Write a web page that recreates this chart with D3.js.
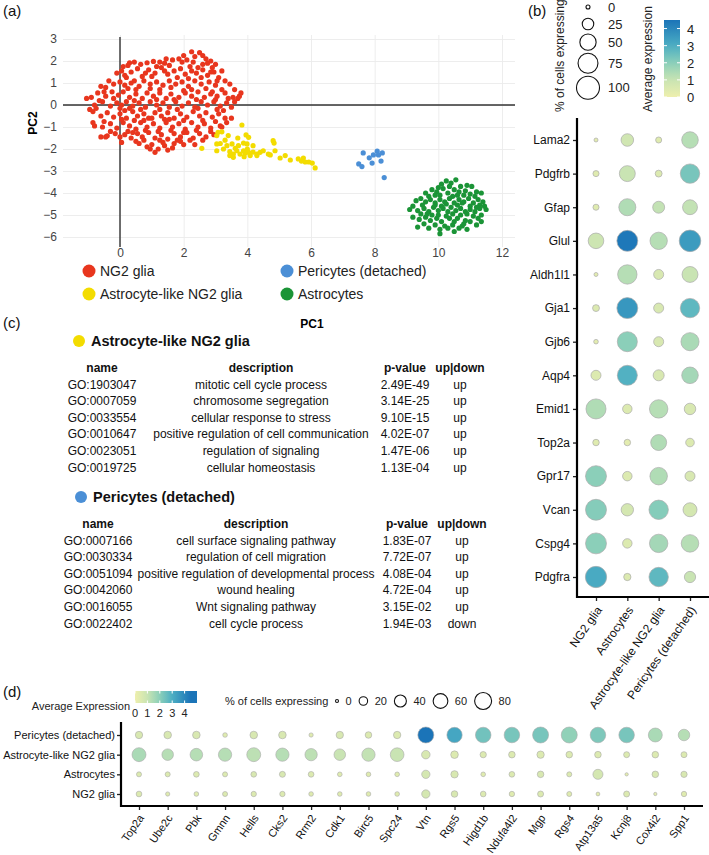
<!DOCTYPE html>
<html>
<head>
<meta charset="utf-8">
<script src="https://cdnjs.cloudflare.com/ajax/libs/d3/7.8.5/d3.min.js"></script>
<style>
  body { margin: 0; background: #fff; }
  svg { display: block; }
  svg text { font-family: "Liberation Sans", Arial, Helvetica, sans-serif; }
</style>
</head>
<body>
<div id="chart"></div>
<script>
// ---- (a) PCA scatter (PC1, PC2)
const ng2Pts = [
  [2.25,2.42],[2.5,2.38],[2.35,2.2],[2.6,2.25],[2.7,2.1],
  [0.3,1.92],[0.45,1.95],[0.25,1.8],[1.05,1.98],[1.25,1.95],[1.4,1.9],[1.65,2.05],[1.85,2.1],[1.95,1.95],[2.1,2.05],[2.3,1.95],[2.6,1.85],[2.85,2.0],[3.0,1.85],[0.85,1.92],[1.55,1.8],[2.45,1.7],[2.9,1.7],
  [-0.1,1.45],[0.05,1.55],[0.35,1.5],[0.55,1.65],[0.7,1.3],[0.9,1.6],[1.1,1.45],[1.3,1.7],[1.5,1.4],[1.7,1.55],[1.9,1.65],[2.05,1.4],[2.25,1.55],[2.4,1.45],[2.6,1.6],[2.75,1.35],[2.95,1.5],[3.2,1.55],[0.2,1.25],[1.0,1.3],[1.8,1.25],[2.55,1.25],[3.1,1.25],[0.45,1.1],
  [-0.6,0.85],[-0.35,1.1],[-0.2,0.95],[0.0,1.05],[0.15,0.9],[0.35,1.0],[0.6,0.85],[0.75,1.1],[0.95,0.95],[1.15,1.05],[1.35,0.9],[1.55,1.1],[1.75,0.95],[1.95,1.05],[2.15,0.85],[2.35,1.1],[2.55,0.95],[2.8,1.05],[3.0,0.9],[3.3,1.1],[3.45,0.95],[-0.5,0.6],[0.5,0.7],[1.25,0.7],[2.0,0.65],[2.7,0.75],[3.2,0.7],
  [-0.9,0.35],[-0.7,0.55],[-0.45,0.4],[-0.25,0.6],[-0.05,0.45],[0.1,0.6],[0.3,0.35],[0.5,0.5],[0.7,0.3],[0.85,0.55],[1.05,0.4],[1.25,0.55],[1.45,0.3],[1.6,0.5],[1.85,0.35],[2.05,0.55],[2.25,0.4],[2.45,0.6],[2.65,0.35],[2.85,0.5],[3.05,0.4],[3.3,0.55],[3.55,0.35],[3.75,0.4],[3.8,0.55],[3.6,0.15],[3.4,0.3],
  [-1.05,0.3],[-0.8,0.0],[-0.55,0.15],[-0.3,-0.05],[-0.1,0.1],[0.05,0.0],[0.2,0.15],[0.4,-0.05],[0.6,0.1],[0.8,-0.1],[0.95,0.15],[1.15,0.0],[1.35,0.1],[1.55,-0.1],[1.75,0.15],[1.95,-0.05],[2.15,0.1],[2.35,-0.1],[2.55,0.15],[2.75,0.0],[2.95,0.15],[3.15,-0.05],[3.35,0.1],[3.5,-0.1],[-0.95,-0.2],[0.0,-0.15],
  [-0.85,-0.3],[-0.6,-0.5],[-0.4,-0.35],[-0.2,-0.55],[0.0,-0.4],[0.2,-0.6],[0.4,-0.3],[0.55,-0.5],[0.75,-0.4],[0.9,-0.6],[1.1,-0.35],[1.3,-0.5],[1.5,-0.35],[1.7,-0.6],[1.9,-0.4],[2.1,-0.55],[2.3,-0.3],[2.5,-0.5],[2.7,-0.35],[2.9,-0.55],[3.1,-0.4],[3.3,-0.6],[3.05,-0.2],[0.3,-0.15],
  [-0.85,-0.8],[-0.8,-0.95],[-0.55,-1.0],[-0.3,-0.85],[-0.1,-1.05],[0.1,-0.8],[0.3,-0.95],[0.5,-1.1],[0.65,-0.8],[0.85,-1.0],[1.05,-0.85],[1.25,-1.05],[1.45,-0.8],[1.65,-1.0],[1.85,-0.85],[2.05,-1.1],[2.25,-0.8],[2.45,-1.0],[2.65,-0.85],[2.85,-1.05],[3.0,-0.75],[3.15,-0.95],[3.35,-0.8],[3.5,-0.6],[0.75,-0.7],[1.55,-0.65],
  [-0.6,-1.45],[-0.4,-1.4],[-0.15,-1.3],[0.0,-1.45],[0.15,-1.35],[0.35,-1.5],[0.55,-1.3],[0.7,-1.45],[0.9,-1.25],[1.1,-1.5],[1.3,-1.35],[1.5,-1.55],[1.7,-1.3],[1.9,-1.45],[2.1,-1.25],[2.3,-1.5],[2.5,-1.3],[2.7,-1.45],[2.85,-1.2],[0.25,-1.2],[1.8,-1.6],[2.6,-1.6],
  [0.05,-1.7],[0.6,-1.75],[0.85,-1.9],[1.0,-1.8],[1.2,-2.0],[1.1,-2.15],[1.4,-1.85],[1.5,-2.05],[1.7,-1.75],[1.9,-1.65],[2.0,-1.8],[2.35,-1.8],[0.95,-2.0],[1.35,-1.7],[0.75,-1.6],
  [0.1,1.75],[0.65,1.85],[1.15,1.75],[1.45,2.1],[2.0,2.25],[2.2,1.75],[2.75,1.9],[0.15,1.35],[0.8,1.45],[1.4,1.55],[2.15,1.2],[2.85,1.5],[3.05,1.1],[-0.45,0.8],[0.25,0.75],[0.95,0.75],[1.6,0.8],[2.25,0.7],[2.9,0.6],[3.6,0.7],
  [-0.65,0.2],[-0.2,0.3],[0.45,0.2],[1.15,0.25],[1.7,0.25],[2.4,0.25],[3.0,0.25],[3.7,0.3],[-0.75,-0.15],[0.15,-0.25],[0.65,-0.2],[1.25,-0.2],[1.8,-0.2],[2.45,-0.15],[3.25,-0.25],
  [-0.5,-0.75],[0.05,-0.65],[0.45,-0.7],[1.0,-0.6],[1.4,-0.65],[2.0,-0.7],[2.6,-0.7],[3.2,-1.0],[-0.3,-1.2],[0.4,-1.25],[0.8,-1.15],[1.2,-1.2],[1.6,-1.15],[2.0,-1.25],[2.4,-1.15],[2.95,-1.35],[-0.45,-1.45],[0.5,-1.65],[1.25,-1.6],[2.2,-1.6],[1.65,-1.95]
]
const astroLikePts = [
  [3.83,-0.91],[3.08,-1.24],[3.2,-1.22],[3.04,-1.39],[3.4,-1.39],[3.96,-1.36],[4.04,-1.47],[3.04,-1.77],[3.36,-1.85],[3.52,-1.77],
  [3.72,-1.85],[3.88,-1.73],[3.99,-1.77],[2.57,-1.97],[3.04,-2.08],[3.25,-2.0],[3.45,-2.12],[3.62,-1.97],[3.67,-2.08],[3.88,-2.08],
  [4.04,-2.15],[3.56,-2.23],[3.77,-2.23],[3.93,-2.18],[4.09,-2.3],[4.3,-2.23],[4.5,-2.08],[3.56,-2.38],[4.3,-2.3],[4.66,-2.23],
  [4.81,-1.62],[4.84,-1.73],[4.87,-2.08],[4.72,-2.27],[5.03,-2.41],[5.19,-2.3],[5.35,-2.5],[5.6,-2.45],[5.76,-2.41],[5.82,-2.59],
  [5.93,-2.59],[6.04,-2.64],[6.13,-2.86],[4.18,-2.14],[3.45,-2.3],[4.18,-1.85],[3.3,-1.6],[3.15,-1.75],[3.7,-1.5],[4.4,-2.15],
  [5.7,-2.55],[3.9,-2.35],[4.0,-2.0]
]
const periPts = [
  [7.64,-2.18],[7.5,-2.68],[7.6,-2.8],[7.83,-2.4],[7.92,-2.64],[7.96,-2.27],[8.08,-2.1],[8.12,-2.27],[8.24,-2.18],[8.2,-2.55],[8.3,-3.3]
]
const astroPts = [
  [10.25,-3.45],[10.55,-3.4],[10.1,-3.6],[10.4,-3.55],[10.7,-3.7],[10.9,-3.65],[11.05,-3.7],[10.0,-3.75],
  [9.6,-4.0],[9.8,-3.85],[9.95,-3.95],[10.15,-3.8],[10.3,-4.0],[10.5,-3.85],[10.65,-3.95],[10.85,-3.9],[11.0,-4.05],[11.2,-3.95],[11.35,-4.0],[9.7,-4.15],[10.05,-4.1],[10.45,-4.15],[10.8,-4.1],[11.15,-4.15],
  [9.3,-4.35],[9.45,-4.25],[9.6,-4.4],[9.75,-4.3],[9.9,-4.45],[10.05,-4.3],[10.2,-4.4],[10.35,-4.25],[10.5,-4.45],[10.65,-4.3],[10.8,-4.4],[10.95,-4.25],[11.1,-4.45],[11.25,-4.3],[11.4,-4.4],[9.5,-4.55],[10.1,-4.6],[10.6,-4.55],[11.0,-4.6],[11.3,-4.55],
  [9.1,-4.75],[9.2,-4.6],[9.35,-4.8],[9.55,-4.7],[9.7,-4.85],[9.85,-4.65],[10.0,-4.8],[10.15,-4.7],[10.3,-4.85],[10.4,-4.65],[10.55,-4.8],[10.7,-4.7],[10.85,-4.85],[11.0,-4.75],[11.15,-4.85],[11.3,-4.7],[11.45,-4.6],[11.5,-4.75],[9.45,-4.95],[9.8,-5.0],[10.25,-5.05],[10.7,-5.0],[11.1,-5.05],
  [9.2,-5.1],[9.4,-5.2],[9.6,-5.1],[9.75,-5.25],[9.95,-5.15],[10.1,-5.3],[10.35,-5.15],[10.5,-5.3],[10.6,-5.15],[10.85,-5.25],[11.0,-5.3],[11.25,-5.15],[11.35,-5.3],[9.55,-5.4],[9.9,-5.45],[10.2,-5.5],[10.45,-5.45],[10.75,-5.5],[11.2,-5.45],
  [9.35,-5.55],[9.7,-5.6],[10.05,-5.65],[10.3,-5.6],[10.5,-5.75],[10.05,-5.85],[10.65,-5.6],[10.9,-5.65],
  [9.9,-4.55],[10.25,-4.5],[10.75,-4.45],[11.2,-4.65],[9.65,-4.95],[10.0,-5.0],[10.45,-4.95],[10.9,-4.95],[11.35,-5.0],[10.35,-3.7],[10.6,-4.1],[9.9,-4.1],[10.8,-5.4]
]
const groupNames = ["NG2 glia", "Astrocyte-like NG2 glia", "Pericytes (detached)", "Astrocytes"]
const pcXTicks = [0, 2, 4, 6, 8, 10, 12]
const pcYTicks = [-6, -5, -4, -3, -2, -1, 0, 1, 2, 3]

// ---- (b) marker dot plot
const genesB = ["Lama2","Pdgfrb","Gfap","Glul","Aldh1l1","Gja1","Gjb6","Aqp4","Emid1","Top2a","Gpr17","Vcan","Cspg4","Pdgfra"]
const cellsB = ["NG2 glia","Astrocytes","Astrocyte-like NG2 glia","Pericytes (detached)"]
const pctB = [
  [3,30,7,52],[7,48,9,71],[7,55,27,42],[46,83,57,88],[3,71,19,48],[9,83,19,71],[4,76,19,62],
  [19,76,23,52],[76,17,64,25],[8,8,48,14],[83,17,58,19],[83,29,71,37],[83,17,64,58],[86,10,71,24]
]
const exprB = [
  [0.3,0.8,0.4,1.3],[0.4,1.0,0.5,2.3],[0.4,1.4,1.1,1.1],[0.9,4.4,1.3,3.5],[0.3,1.3,0.6,1.0],[0.5,3.6,0.6,2.7],[0.3,2.0,0.6,1.5],
  [0.5,2.9,0.6,1.6],[1.4,0.5,1.3,0.6],[0.4,0.3,1.4,0.5],[2.0,0.5,1.4,0.6],[2.1,0.7,2.1,0.7],[2.0,0.5,1.6,1.3],[3.1,0.5,2.7,1.0]
]
const sizeLegendB = [0, 25, 50, 75, 100]
const colorTicksB = [0, 1, 2, 3, 4]

// ---- (c) GO term tables
const goHeader = ["name", "description", "p-value", "up|down"]
const astroLikeGO = [
  ["GO:1903047","mitotic cell cycle process","2.49E-49","up"],
  ["GO:0007059","chromosome segregation","3.14E-25","up"],
  ["GO:0033554","cellular response to stress","9.10E-15","up"],
  ["GO:0010647","positive regulation of cell communication","4.02E-07","up"],
  ["GO:0023051","regulation of signaling","1.47E-06","up"],
  ["GO:0019725","cellular homeostasis","1.13E-04","up"]
]
const periGO = [
  ["GO:0007166","cell surface signaling pathway","1.83E-07","up"],
  ["GO:0030334","regulation of cell migration","7.72E-07","up"],
  ["GO:0051094","positive regulation of developmental process","4.08E-04","up"],
  ["GO:0042060","wound healing","4.72E-04","up"],
  ["GO:0016055","Wnt signaling pathway","3.15E-02","up"],
  ["GO:0022402","cell cycle process","1.94E-03","down"]
]

// ---- (d) second dot plot
const genesD = ["Top2a","Ube2c","Pbk","Gmnn","Hells","Cks2","Rrm2","Cdk1","Birc5","Spc24","Vtn","Rgs5","Higd1b","Ndufa4l2","Mgp","Rgs4","Atp13a5","Kcnj8","Cox4i2","Spp1"]
const cellsD = ["Pericytes (detached)","Astrocyte-like NG2 glia","Astrocytes","NG2 glia"]
const pctD = [
  [15,16,16,6,16,16,5,15,12,15,71,65,67,67,71,71,67,67,54,37],
  [54,37,44,49,54,49,42,37,49,52,20,16,11,12,15,12,12,10,12,10],
  [7,7,9,7,9,10,9,6,6,6,19,15,6,9,12,7,28,3,12,11],
  [9,5,6,7,8,8,6,6,6,6,19,12,9,8,10,7,4,10,3,8]
]
const exprD = [
  [0.6,0.6,0.6,0.4,0.6,0.6,0.4,0.6,0.5,0.5,4.5,3.2,2.4,2.3,2.3,1.9,2.2,2.3,1.5,1.3],
  [1.5,1.3,1.3,1.3,1.2,1.3,1.2,1.0,1.1,1.0,0.6,0.5,0.5,0.5,0.5,0.5,0.5,0.5,0.5,0.5],
  [0.5,0.5,0.5,0.5,0.6,0.6,0.5,0.4,0.4,0.4,0.7,0.6,0.4,0.5,0.6,0.5,0.7,0.3,0.6,0.6],
  [0.5,0.4,0.4,0.5,0.5,0.5,0.4,0.4,0.4,0.4,0.7,0.6,0.5,0.4,0.5,0.4,0.3,0.5,0.3,0.4]
]
const sizeLegendD = [0, 20, 40, 60, 80]
const colorTicksD = [0, 1, 2, 3, 4]

// styles
const groupColors = ["#e8361e", "#f3dc00", "#4b8fd6", "#1b9437"]
const exprColor = d3.scaleLinear()
  .domain([0, 1, 2, 3, 4.5])
  .range(["#eeefad", "#c9e4b3", "#8bcfb9", "#4caec3", "#1b74b8"])
  .clamp(true)
const dotStroke = "#aaaaaa"

const svg = d3.select("#chart").append("svg")
  .attr("width", 709).attr("height", 855)
  .style("background", "#fff")
const defs = svg.append("defs")

function panelLetter(txt, x, y) {
  svg.append("text").attr("x", x).attr("y", y).attr("font-size", 15).attr("fill", "#111").text(txt)
}

// =============== (a) ===============
panelLetter("(a)", 3, 16)
const plotL = 63, plotR = 515, plotT = 35, plotB = 247
const pcX = d3.scaleLinear().domain([0, 12]).range([120, 502])
const pcY = d3.scaleLinear().domain([-6, 3]).range([237, 39])
const gA = svg.append("g")

gA.append("g")
  .attr("transform", `translate(0,${plotB})`)
  .call(d3.axisBottom(pcX).tickValues(pcXTicks).tickSize(-(plotB - plotT)).tickPadding(1))
  .call(g => g.select(".domain").remove())
  .call(g => g.selectAll("line").attr("stroke", "#ebebeb").attr("stroke-width", 0.9))
  .call(g => g.selectAll("text").attr("font-size", 12).attr("fill", "#444"))

gA.append("g")
  .attr("transform", `translate(${plotL},0)`)
  .call(d3.axisLeft(pcY).tickValues(pcYTicks).tickSize(-(plotR - plotL)).tickPadding(6))
  .call(g => g.select(".domain").remove())
  .call(g => g.selectAll("line").attr("stroke", "#ebebeb").attr("stroke-width", 0.9))
  .call(g => g.selectAll("text").attr("font-size", 12).attr("fill", "#444"))

gA.append("line")
  .attr("x1", pcX(0)).attr("x2", pcX(0)).attr("y1", 37).attr("y2", plotB)
  .attr("stroke", "#333").attr("stroke-width", 1.4)
gA.append("line")
  .attr("x1", plotL).attr("x2", plotR).attr("y1", pcY(0)).attr("y2", pcY(0))
  .attr("stroke", "#333").attr("stroke-width", 1.4)

const allGroups = [ng2Pts, astroLikePts, periPts, astroPts]
allGroups.forEach((pts, i) => {
  gA.append("g").selectAll("circle")
    .data(pts)
    .enter()
    .append("circle")
    .attr("cx", d => pcX(d[0]))
    .attr("cy", d => pcY(d[1]))
    .attr("r", 2.6)
    .attr("fill", groupColors[i])
})

gA.append("text")
  .attr("transform", "translate(37,123) rotate(-90)")
  .attr("text-anchor", "middle").attr("font-size", 12).attr("font-weight", "bold")
  .text("PC2")
gA.append("text")
  .attr("x", 312).attr("y", 328)
  .attr("text-anchor", "middle").attr("font-size", 12).attr("font-weight", "bold")
  .text("PC1")

// legend: 2 x 2
const legA = gA.append("g")
groupNames.forEach((name, i) => {
  const lx = [89, 287][i >= 2 ? 1 : 0]
  const ly = [271, 294][i % 2]
  legA.append("circle").attr("cx", lx).attr("cy", ly).attr("r", 6.5).attr("fill", groupColors[i])
  legA.append("text").attr("x", lx + 11).attr("y", ly + 5).attr("font-size", 14).attr("fill", "#222").text(name)
})

// =============== (b) ===============
panelLetter("(b)", 528, 16)
const gB = svg.append("g")
const bx = d3.scalePoint().domain(cellsB).range([596, 690])
const by = d3.scalePoint().domain(genesB).range([140, 577])
const sizeB = d3.scaleSqrt().domain([0, 100]).range([0, 11.5])
const rB = p => Math.max(2, sizeB(p))

gB.append("g")
  .attr("transform", "translate(577,0)")
  .call(d3.axisLeft(by).tickSize(4).tickPadding(3))
  .call(g => g.select(".domain").remove())
  .call(g => g.selectAll("line").attr("stroke", "#222").attr("stroke-width", 1.3))
  .call(g => g.selectAll("text").attr("font-size", 12).attr("fill", "#111"))

gB.append("g")
  .attr("transform", "translate(0,597)")
  .call(d3.axisBottom(bx).tickSize(4))
  .call(g => g.select(".domain").remove())
  .call(g => g.selectAll("line").attr("stroke", "#222").attr("stroke-width", 1.3))
  .call(g => g.selectAll("text")
    .attr("font-size", 12).attr("fill", "#111")
    .attr("text-anchor", "end")
    .attr("y", 0).attr("dy", 0)
    .attr("transform", "translate(6,13) rotate(-55)"))

gB.append("line").attr("x1", 577).attr("x2", 577).attr("y1", 118).attr("y2", 598)
  .attr("stroke", "#000").attr("stroke-width", 2.2)
gB.append("line").attr("x1", 576).attr("x2", 709).attr("y1", 597).attr("y2", 597)
  .attr("stroke", "#000").attr("stroke-width", 2.2)

const cellsBData = []
genesB.forEach((g, i) => cellsB.forEach((c, j) => cellsBData.push({ gene: g, cell: c, pct: pctB[i][j], expr: exprB[i][j] })))
gB.append("g").selectAll("circle")
  .data(cellsBData)
  .enter()
  .append("circle")
  .attr("cx", d => bx(d.cell))
  .attr("cy", d => by(d.gene))
  .attr("r", d => rB(d.pct))
  .attr("fill", d => exprColor(d.expr))
  .attr("stroke", dotStroke).attr("stroke-width", 0.7)

// size legend (b)
gB.append("text")
  .attr("transform", "translate(564,112) rotate(-90)")
  .attr("font-size", 12).attr("fill", "#222")
  .text("% of cells expressing")
let keyY = -1.5
sizeLegendB.forEach(v => {
  const r = rB(v)
  const h = Math.max(2 * r + 3, 17)
  const cy = keyY + h / 2
  gB.append("circle").attr("cx", 588).attr("cy", cy).attr("r", r)
    .attr("fill", "none").attr("stroke", "#111").attr("stroke-width", 1.1)
  gB.append("text").attr("x", 608).attr("y", cy + 4.5).attr("font-size", 13).attr("fill", "#222").text(v)
  keyY += h
})

// colour legend (b)
gB.append("text")
  .attr("transform", "translate(652,112) rotate(-90)")
  .attr("font-size", 12).attr("fill", "#222")
  .text("Average expression")
const cbB = d3.scaleLinear().domain([0, 4.5]).range([97, 20])
const gradB = defs.append("linearGradient").attr("id", "gradB")
  .attr("x1", 0).attr("x2", 0).attr("y1", 1).attr("y2", 0)
d3.range(0, 1.0001, 0.1).forEach(t => {
  gradB.append("stop").attr("offset", t).attr("stop-color", exprColor(t * 4.5))
})
gB.append("rect").attr("x", 664).attr("y", 20).attr("width", 16).attr("height", 77).attr("fill", "url(#gradB)")
colorTicksB.forEach(v => {
  gB.append("line").attr("x1", 664).attr("x2", 667).attr("y1", cbB(v)).attr("y2", cbB(v)).attr("stroke", "#fff")
  gB.append("line").attr("x1", 677).attr("x2", 680).attr("y1", cbB(v)).attr("y2", cbB(v)).attr("stroke", "#fff")
  gB.append("text").attr("x", 687).attr("y", cbB(v) + 5).attr("font-size", 13).attr("fill", "#222").text(v)
})

// =============== (c) ===============
panelLetter("(c)", 3, 328)
const gC = svg.append("g")

function drawGoTable(title, color, rows, top, cols) {
  gC.append("circle").attr("cx", cols.dot).attr("cy", top).attr("r", 6).attr("fill", color)
  gC.append("text").attr("x", cols.dot + 12).attr("y", top + 5)
    .attr("font-size", 14.5).attr("font-weight", "bold").attr("fill", "#111").text(title)
  const hy = top + 27
  goHeader.forEach((h, k) => {
    gC.append("text").attr("x", cols.x[k]).attr("y", hy + 4)
      .attr("text-anchor", "middle").attr("font-size", 12).attr("font-weight", "bold").attr("fill", "#111").text(h)
  })
  rows.forEach((r, i) => {
    r.forEach((cell, k) => {
      gC.append("text").attr("x", cols.x[k]).attr("y", hy + 16.6 * (i + 1) + 4)
        .attr("text-anchor", "middle").attr("font-size", 12).attr("fill", "#111").text(cell)
    })
  })
}
drawGoTable("Astrocyte-like NG2 glia", groupColors[1], astroLikeGO, 341, { dot: 79, x: [102, 261, 405, 460] })
drawGoTable("Pericytes (detached)", groupColors[2], periGO, 497, { dot: 81, x: [98, 256, 407, 462] })

// =============== (d) ===============
panelLetter("(d)", 3, 697)
const gD = svg.append("g")
const dx = d3.scalePoint().domain(genesD).range([139, 684])
const dy = d3.scalePoint().domain(cellsD).range([735, 794])
const sizeD = d3.scaleSqrt().domain([0, 80]).range([0, 8.5])
const rD = p => Math.max(1.5, sizeD(p))

gD.append("g")
  .attr("transform", "translate(121,0)")
  .call(d3.axisLeft(dy).tickSize(4).tickPadding(2))
  .call(g => g.select(".domain").remove())
  .call(g => g.selectAll("line").attr("stroke", "#222").attr("stroke-width", 1.3))
  .call(g => g.selectAll("text").attr("font-size", 11).attr("fill", "#111"))

gD.append("g")
  .attr("transform", "translate(0,806)")
  .call(d3.axisBottom(dx).tickSize(4))
  .call(g => g.select(".domain").remove())
  .call(g => g.selectAll("line").attr("stroke", "#222").attr("stroke-width", 1.3))
  .call(g => g.selectAll("text")
    .attr("font-size", 11).attr("fill", "#111")
    .attr("text-anchor", "end")
    .attr("y", 0).attr("dy", 0)
    .attr("transform", "translate(5,12) rotate(-55)"))

gD.append("line").attr("x1", 121).attr("x2", 121).attr("y1", 722).attr("y2", 807)
  .attr("stroke", "#000").attr("stroke-width", 2.2)
gD.append("line").attr("x1", 120).attr("x2", 703).attr("y1", 806).attr("y2", 806)
  .attr("stroke", "#000").attr("stroke-width", 2.2)

const cellsDData = []
cellsD.forEach((c, i) => genesD.forEach((g, j) => cellsDData.push({ gene: g, cell: c, pct: pctD[i][j], expr: exprD[i][j] })))
gD.append("g").selectAll("circle")
  .data(cellsDData)
  .enter()
  .append("circle")
  .attr("cx", d => dx(d.gene))
  .attr("cy", d => dy(d.cell))
  .attr("r", d => rD(d.pct))
  .attr("fill", d => exprColor(d.expr))
  .attr("stroke", dotStroke).attr("stroke-width", 0.6)

// colour legend (d), horizontal
gD.append("text").attr("x", 130).attr("y", 710).attr("text-anchor", "end")
  .attr("font-size", 11).attr("fill", "#222").text("Average Expression")
const cbD = d3.scaleLinear().domain([0, 5]).range([135, 197])
const gradD = defs.append("linearGradient").attr("id", "gradD")
  .attr("x1", 0).attr("x2", 1).attr("y1", 0).attr("y2", 0)
d3.range(0, 1.0001, 0.1).forEach(t => {
  gradD.append("stop").attr("offset", t).attr("stop-color", exprColor(t * 5))
})
gD.append("rect").attr("x", 135).attr("y", 691).attr("width", 62).attr("height", 12).attr("fill", "url(#gradD)")
colorTicksD.forEach(v => {
  gD.append("line").attr("x1", cbD(v)).attr("x2", cbD(v)).attr("y1", 691).attr("y2", 693.5).attr("stroke", "#fff")
  gD.append("line").attr("x1", cbD(v)).attr("x2", cbD(v)).attr("y1", 700.5).attr("y2", 703).attr("stroke", "#fff")
  gD.append("text").attr("x", cbD(v)).attr("y", 717).attr("text-anchor", "middle")
    .attr("font-size", 11).attr("fill", "#222").text(v)
})

// size legend (d), horizontal
gD.append("text").attr("x", 225).attr("y", 705)
  .attr("font-size", 11).attr("fill", "#222").text("% of cells expressing")
let keyX = 335.5
sizeLegendD.forEach(v => {
  const r = rD(v)
  const cx = keyX + r
  gD.append("circle").attr("cx", cx).attr("cy", 701).attr("r", r)
    .attr("fill", "none").attr("stroke", "#111").attr("stroke-width", 1.1)
  const lbl = gD.append("text").attr("x", cx + r + 7).attr("y", 705)
    .attr("font-size", 11).attr("fill", "#222").text(v)
  keyX = cx + r + 7 + lbl.node().getComputedTextLength() + 7.5
})
</script>
</body>
</html>
